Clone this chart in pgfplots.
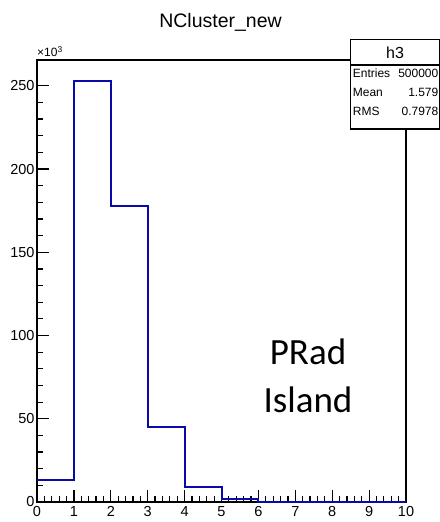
\documentclass[border=0pt]{standalone}
\usepackage{fontspec}
\setmainfont{Liberation Sans}
\newfontfamily\calibri{Carlito}
\usepackage{pgfplots}
\pgfplotsset{compat=1.18}
\definecolor{rootblue}{RGB}{10,10,170}

\begin{document}
\begin{tikzpicture}
\begin{axis}[
    at={(0,0)}, anchor=south west,
    scale only axis,
    width=369bp, height=442bp,
    xmin=0, xmax=10,
    ymin=0, ymax=265500,
    axis line style={line width=1.6bp},
    xtick={0,...,10}, minor x tick num=4,
    xticklabels={0,1,2,3,4,5,6,7,8,9,10},
    ytick={0,50000,100000,150000,200000,250000}, minor y tick num=4,
    yticklabels={0,50,100,150,200,250},
    scaled y ticks=false,
    xtick pos=bottom, ytick pos=left,
    tick align=inside,
    major tick length=12bp, minor tick length=6bp,
    every tick/.style={black, line width=1.2bp},
    tick label style={font=\fontsize{14.5bp}{16bp}\selectfont},
    xticklabel style={yshift=-1bp},
    yticklabel style={xshift=1bp},
    clip=false,
]
\addplot[const plot, rootblue, line width=2bp] coordinates {
    (0,13000) (1,253000) (2,178000) (3,44800) (4,8800)
    (5,1600) (6,300) (7,0) (8,0) (9,0) (10,0)
};
\end{axis}

% frame of the picture
\path[use as bounding box] (-37bp,-20bp) rectangle (403bp,502bp);

% title
\node[font=\fontsize{19.5bp}{22bp}\selectfont] at (183.5bp,480bp) {NCluster\_new};

% x10^3 scale label
\node[anchor=south west, inner sep=0pt, font=\fontsize{12bp}{13bp}\selectfont]
    at (0bp,445bp) {×10\textsuperscript{3}};

% statistics box
\begin{scope}[line width=1.2bp]
\fill[white] (313.7bp,373bp) rectangle (402.4bp,462.7bp);
\draw (313.7bp,373bp) rectangle (402.4bp,462.7bp);
\draw (313.7bp,437bp) -- (402.4bp,437bp);
\end{scope}
\node[font=\fontsize{16bp}{18bp}\selectfont] at (358bp,449.5bp) {h3};
\begin{scope}[every node/.style={inner sep=0pt, font=\fontsize{12bp}{14bp}\selectfont}]
\node[anchor=west] at (315.7bp,429bp) {Entries};
\node[anchor=east] at (401.5bp,429bp) {500000};
\node[anchor=west] at (315.7bp,410bp) {Mean};
\node[anchor=east] at (401.5bp,410bp) {1.579};
\node[anchor=west] at (315.7bp,391bp) {RMS};
\node[anchor=east] at (401.5bp,391bp) {0.7978};
\end{scope}

% annotation
\node[anchor=base, inner sep=0pt, font=\calibri\fontsize{37bp}{44bp}\selectfont]
    at (271bp,137bp) {PRad};
\node[anchor=base, inner sep=0pt, font=\calibri\fontsize{37bp}{44bp}\selectfont]
    at (271bp,89bp) {Island};
\end{tikzpicture}
\end{document}
